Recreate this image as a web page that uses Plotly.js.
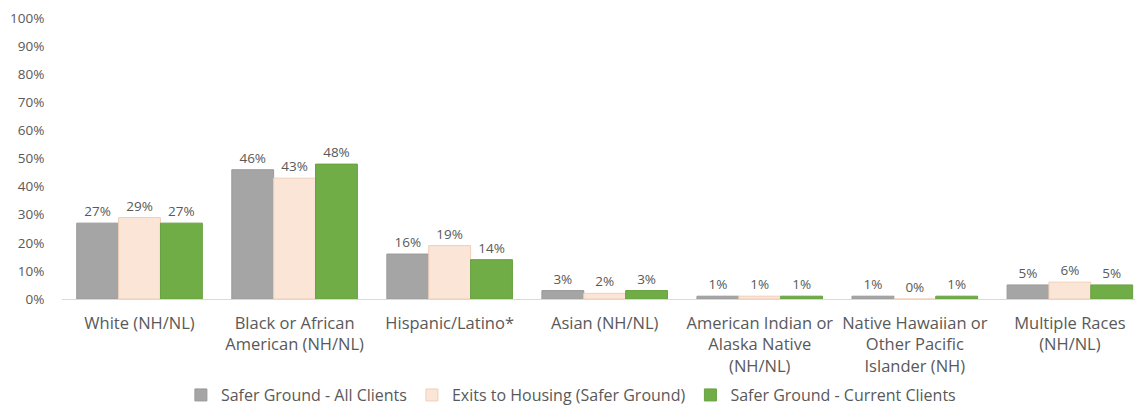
<!DOCTYPE html>
<html>
<head>
<meta charset="utf-8">
<script src="https://cdn.plot.ly/plotly-3.0.1.min.js"></script>
<style>html,body{margin:0;padding:0;overflow:hidden;background:#fff}</style>
</head>
<body>
<div id="chart" style="width:1135px;height:406px"></div>
<script>
const categories = [
  "White (NH/NL)",
  "Black or African<br>American (NH/NL)",
  "Hispanic/Latino*",
  "Asian (NH/NL)",
  "American Indian or<br>Alaska Native<br>(NH/NL)",
  "Native Hawaiian or<br>Other Pacific<br>Islander (NH)",
  "Multiple Races<br>(NH/NL)"
];
const seriesNames = [
  "Safer Ground - All Clients",
  "Exits to Housing (Safer Ground)",
  "Safer Ground - Current Clients"
];
const allClients = [0.27, 0.46, 0.16, 0.03, 0.01, 0.01, 0.05];
const exitsToHousing = [0.29, 0.43, 0.19, 0.02, 0.01, 0.00, 0.06];
const currentClients = [0.27, 0.48, 0.14, 0.03, 0.01, 0.01, 0.05];
const yTickValues = [0, 0.1, 0.2, 0.3, 0.4, 0.5, 0.6, 0.7, 0.8, 0.9, 1.0];

const colors = ["#a5a5a5", "#fbe5d6", "#70ad47"];
const lineColors = ["#9a9a9a", "#f0cfb8", "#67a140"];
const seriesValues = [allClients, exitsToHousing, currentClients];

const traces = seriesValues.map((vals, i) => ({
  type: "bar",
  name: seriesNames[i],
  x: categories,
  y: vals,
  text: vals.map(v => Math.round(v * 100) + "%"),
  textposition: "outside",
  cliponaxis: false,
  textfont: {family: "Open Sans, sans-serif", size: 13.5, color: "#595959"},
  marker: {color: colors[i], line: {color: lineColors[i], width: 1}},
  hoverinfo: "skip"
}));

const layout = {
  width: 1135,
  height: 406,
  margin: {l: 62, r: 0, t: 18, b: 107},
  paper_bgcolor: "#ffffff",
  plot_bgcolor: "#ffffff",
  barmode: "group",
  bargap: 0.19,
  bargroupgap: 0,
  showlegend: true,
  font: {family: "Open Sans, sans-serif", color: "#595959"},
  xaxis: {
    range: [-0.5, 6.42],
    showgrid: false,
    zeroline: false,
    showline: true,
    linecolor: "#d9d9d9",
    linewidth: 1,
    ticks: "outside",
    ticklen: 9,
    tickcolor: "rgba(0,0,0,0)",
    tickfont: {family: "Open Sans, sans-serif", size: 16.5, color: "#595959"},
    tickangle: 0,
    automargin: false,
    fixedrange: true
  },
  yaxis: {
    range: [0, 1],
    tickvals: yTickValues,
    tickformat: ".0%",
    showgrid: false,
    zeroline: false,
    showline: false,
    ticks: "outside",
    ticklen: 14,
    tickcolor: "rgba(0,0,0,0)",
    tickfont: {family: "Open Sans, sans-serif", size: 13.5, color: "#595959"},
    automargin: false,
    fixedrange: true
  },
  legend: {
    orientation: "h",
    xref: "container",
    yref: "container",
    x: 0.503,
    xanchor: "center",
    y: 0.027,
    yanchor: "middle",
    font: {family: "Open Sans, sans-serif", size: 16, color: "#595959"},
    bgcolor: "rgba(0,0,0,0)"
  }
};

Plotly.newPlot("chart", traces, layout, {displayModeBar: false, staticPlot: true});
</script>
</body>
</html>
